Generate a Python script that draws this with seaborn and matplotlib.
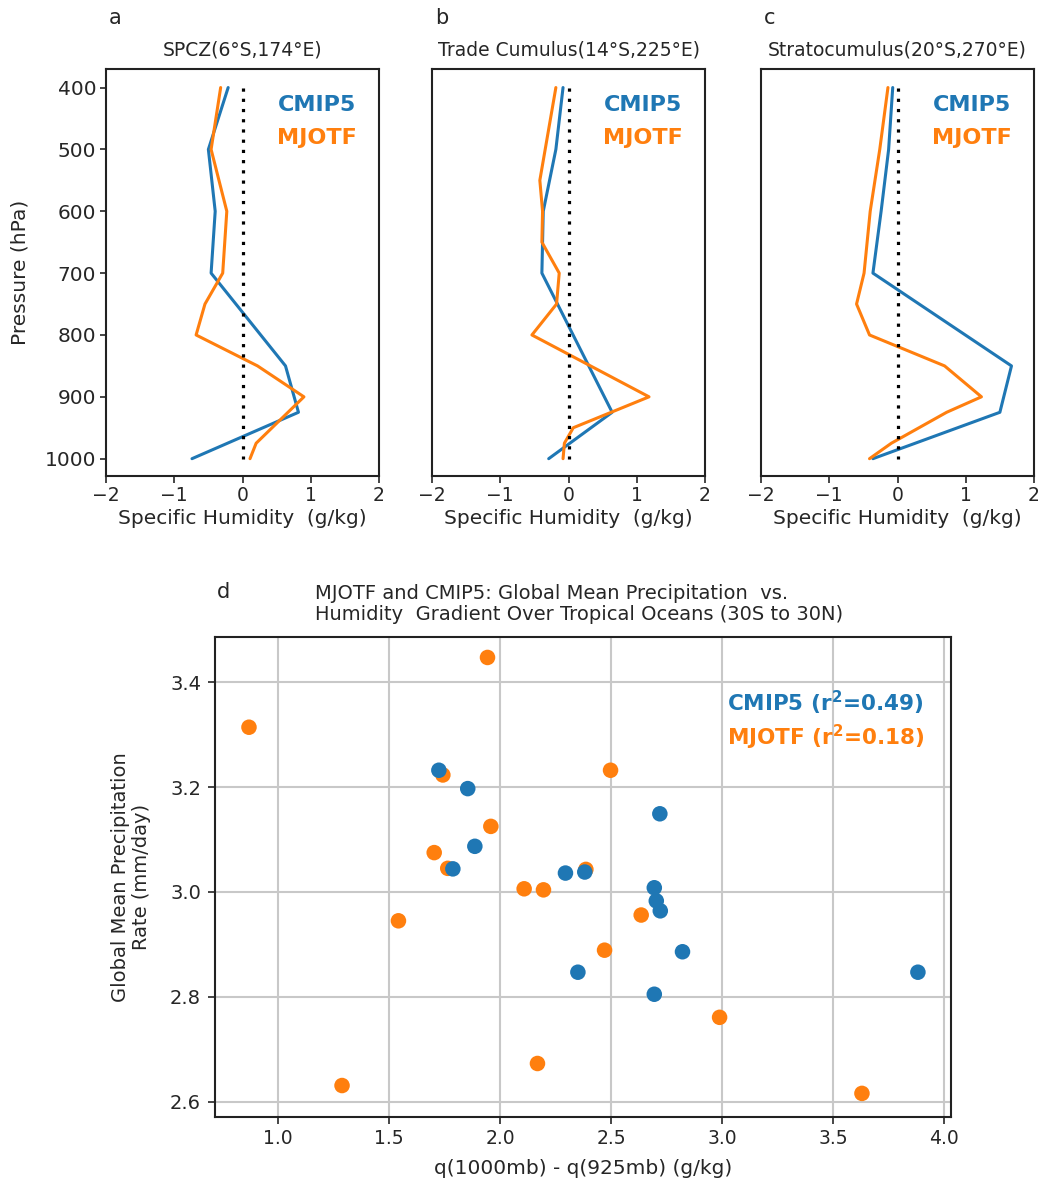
import numpy as np
import pandas as pd
import matplotlib
matplotlib.use("Agg")
import matplotlib.pyplot as plt
import seaborn as sns

# ---------------- data ----------------
panel_letters = ["a", "b", "c"]
panel_titles = ["SPCZ(6°S,174°E)", "Trade Cumulus(14°S,225°E)", "Stratocumulus(20°S,270°E)"]

a_cmip_p = [400, 500, 600, 700, 850, 925, 1000]
a_cmip_q = [-0.21, -0.50, -0.40, -0.46, 0.63, 0.82, -0.74]
a_mjo_p = [400, 500, 600, 700, 750, 800, 850, 900, 975, 1000]
a_mjo_q = [-0.32, -0.46, -0.23, -0.29, -0.55, -0.68, 0.22, 0.90, 0.20, 0.11]

b_cmip_p = [400, 500, 600, 700, 925, 1000]
b_cmip_q = [-0.08, -0.185, -0.37, -0.39, 0.64, -0.29]
b_mjo_p = [400, 550, 600, 650, 700, 750, 800, 900, 950, 975, 1000]
b_mjo_q = [-0.185, -0.42, -0.38, -0.39, -0.136, -0.175, -0.536, 1.18, 0.07, -0.06, -0.08]

c_cmip_p = [400, 500, 600, 700, 850, 925, 1000]
c_cmip_q = [-0.07, -0.13, -0.24, -0.36, 1.67, 1.50, -0.36]
c_mjo_p = [400, 500, 600, 700, 750, 800, 850, 900, 925, 975, 1000]
c_mjo_q = [-0.14, -0.26, -0.40, -0.49, -0.60, -0.41, 0.69, 1.23, 0.72, -0.09, -0.41]

pressure_ticks = [400, 500, 600, 700, 800, 900, 1000]
q_ticks = [-2, -1, 0, 1, 2]

cmip_dq = [1.724, 1.854, 2.719, 1.886, 1.787, 2.294, 2.381, 2.694, 2.703, 2.721, 2.821, 2.350, 2.694, 3.881]
cmip_pr = [3.232, 3.197, 3.149, 3.087, 3.044, 3.036, 3.038, 3.008, 2.983, 2.964, 2.886, 2.847, 2.805, 2.847]

mjo_dq = [1.943, 0.869, 1.742, 2.497, 1.958, 1.703, 1.764, 2.386, 2.108, 2.195, 2.635, 1.542, 2.470, 2.168, 1.288, 2.988, 3.629]
mjo_pr = [3.447, 3.314, 3.223, 3.232, 3.125, 3.075, 3.045, 3.043, 3.006, 3.004, 2.956, 2.945, 2.889, 2.673, 2.631, 2.761, 2.616]

scatter_xticks = [1.0, 1.5, 2.0, 2.5, 3.0, 3.5, 4.0]
scatter_yticks = [2.6, 2.8, 3.0, 3.2, 3.4]

r2_cmip = 0.49
r2_mjo = 0.18

BLUE = "#1f77b4"
ORANGE = "#ff7f0e"
TXT = "#262626"

# ---------------- style ----------------
sns.set_style("ticks")
plt.rcParams["font.family"] = ["DejaVu Sans"]
plt.rcParams["axes.unicode_minus"] = True
plt.rcParams["text.color"] = TXT
plt.rcParams["axes.labelcolor"] = TXT
plt.rcParams["xtick.color"] = TXT
plt.rcParams["ytick.color"] = TXT
plt.rcParams["mathtext.fontset"] = "dejavusans"

fig = plt.figure(figsize=(10.49, 11.84), dpi=100)

profiles = [
    (a_cmip_p, a_cmip_q, a_mjo_p, a_mjo_q),
    (b_cmip_p, b_cmip_q, b_mjo_p, b_mjo_q),
    (c_cmip_p, c_cmip_q, c_mjo_p, c_mjo_q),
]
lefts = [106, 432, 761]
AX_TOP, AX_BOT = 69, 476
for i, (cp, cq, mp, mq) in enumerate(profiles):
    ax = fig.add_axes([lefts[i] / 1049, 1 - AX_BOT / 1184, 273 / 1049, (AX_BOT - AX_TOP) / 1184])
    df = pd.concat([
        pd.DataFrame({"q": cq, "p": cp, "src": "CMIP5"}),
        pd.DataFrame({"q": mq, "p": mp, "src": "MJOTF"}),
    ], ignore_index=True)
    sns.lineplot(data=df, x="q", y="p", hue="src", palette={"CMIP5": BLUE, "MJOTF": ORANGE},
                 sort=False, estimator=None, orient="y", linewidth=2.2, legend=False, ax=ax)
    ax.plot([0, 0], [400, 1000], color="black", linestyle=(0, (1, 2.2)), linewidth=2.3)
    ax.set_xlim(-2, 2)
    ax.set_ylim(1028, 370)
    ax.set_xticks(q_ticks)
    ax.set_xticklabels([f"{t}".replace("-", "\u2212") for t in q_ticks], fontsize=13.5)
    ax.set_xlabel("Specific Humidity  (g/kg)", fontsize=14.5, labelpad=3)
    ax.set_yticks(pressure_ticks)
    if i == 0:
        ax.set_yticklabels([str(t) for t in pressure_ticks], fontsize=14.5)
        ax.set_ylabel("Pressure (hPa)", fontsize=14.5, labelpad=11)
        ax.tick_params(axis="y", length=4, width=1.2, pad=3)
    else:
        ax.set_yticklabels([])
        ax.set_ylabel("")
        ax.tick_params(axis="y", length=0)
    ax.tick_params(axis="x", length=5, width=1.2, direction="out", pad=2)
    for s in ax.spines.values():
        s.set_linewidth(1.5)
        s.set_color("#222222")
    ax.set_title(panel_titles[i], fontsize=13.5, pad=10)
    ax.text(0.01, 1.125, panel_letters[i], transform=ax.transAxes, fontsize=15, ha="left", va="center")
    ax.text(0.628, 0.911, "CMIP5", transform=ax.transAxes, color=BLUE, fontsize=16,
            fontweight="bold", ha="left", va="center")
    ax.text(0.628, 0.83, "MJOTF", transform=ax.transAxes, color=ORANGE, fontsize=16,
            fontweight="bold", ha="left", va="center")

# ---------------- scatter ----------------
axd = fig.add_axes([215 / 1049, 1 - 1117 / 1184, 736 / 1049, 480 / 1184])
sdf = pd.concat([
    pd.DataFrame({"dq": mjo_dq, "pr": mjo_pr, "src": "MJOTF"}),
    pd.DataFrame({"dq": cmip_dq, "pr": cmip_pr, "src": "CMIP5"}),
], ignore_index=True)
sns.scatterplot(data=sdf, x="dq", y="pr", hue="src", palette={"CMIP5": BLUE, "MJOTF": ORANGE},
                s=125, linewidth=0, legend=False, ax=axd, zorder=3)
axd.set_xlim(0.716, 4.03)
axd.set_ylim(2.571, 3.486)
axd.set_xticks(scatter_xticks)
axd.set_yticks(scatter_yticks)
axd.set_xticklabels([f"{t:.1f}" for t in scatter_xticks], fontsize=13.5)
axd.set_yticklabels([f"{t:.1f}" for t in scatter_yticks], fontsize=14)
axd.grid(True, color="#c8c8c8", linewidth=1.5)
axd.set_axisbelow(True)
axd.tick_params(axis="both", length=5, width=1.2, direction="out")
axd.tick_params(axis="y", pad=5)
for s in axd.spines.values():
    s.set_linewidth(1.5)
    s.set_color("#222222")
axd.set_xlabel("q(1000mb) - q(925mb) (g/kg)", fontsize=14.5, labelpad=8)
axd.set_ylabel("Global Mean Precipitation\nRate (mm/day)", fontsize=14, labelpad=14, linespacing=1.1)
axd.text(0.136, 1.068, "MJOTF and CMIP5: Global Mean Precipitation  vs.\nHumidity  Gradient Over Tropical Oceans (30S to 30N)",
         transform=axd.transAxes, fontsize=14, ha="left", va="center", linespacing=1.15)
axd.text(0.002, 1.094, "d", transform=axd.transAxes, fontsize=15, ha="left", va="center")
axd.text(0.696, 0.8625, r"CMIP5 (r$^{\mathbf{2}}$=0.49)".replace("0.49", f"{r2_cmip:.2f}"),
         transform=axd.transAxes, color=BLUE, fontsize=15.5, fontweight="bold", ha="left", va="center")
axd.text(0.696, 0.79, r"MJOTF (r$^{\mathbf{2}}$=0.18)".replace("0.18", f"{r2_mjo:.2f}"),
         transform=axd.transAxes, color=ORANGE, fontsize=15.5, fontweight="bold", ha="left", va="center")

fig.savefig("out.png", dpi=100)
